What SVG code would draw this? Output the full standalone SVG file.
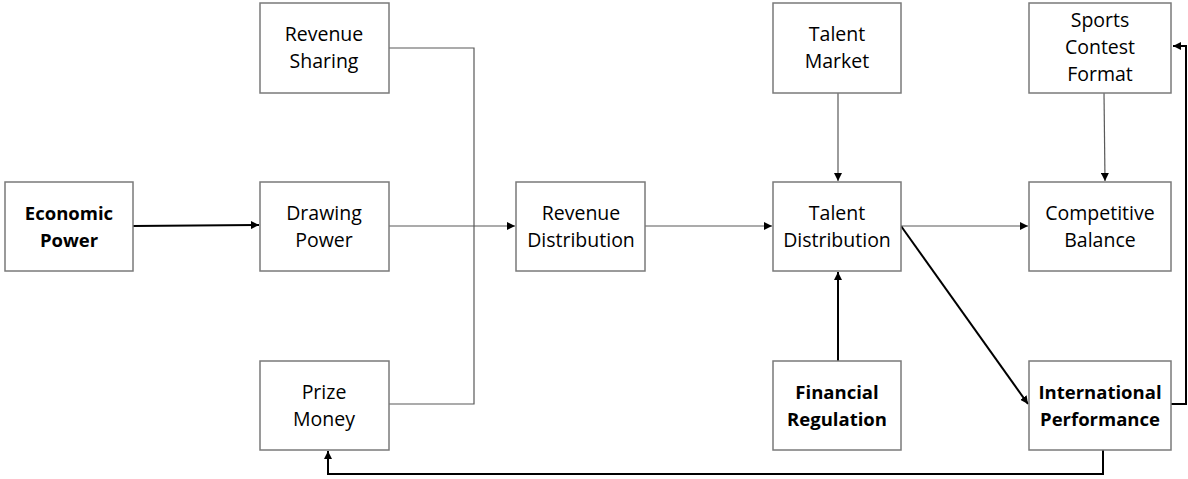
<svg xmlns="http://www.w3.org/2000/svg" width="1188" height="479" viewBox="0 0 1188 479">
<defs>
<marker id="ah" viewBox="0 0 10 10" refX="10" refY="5" markerWidth="8" markerHeight="8" markerUnits="userSpaceOnUse" orient="auto">
<path d="M0,0 L10,5 L0,10 Z" fill="#000"/>
</marker>
<style>
.box{fill:#fff;stroke:#7a7a7a;stroke-width:1.5}
.t{font-family:"Open Sans","Liberation Sans",sans-serif;font-size:19.5px;fill:#000;text-anchor:middle}
.b{font-weight:bold;font-size:18.5px}
.thin{fill:none;stroke:#595959;stroke-width:1.2}
.thick{fill:none;stroke:#000;stroke-width:2}
</style>
</defs>
<rect width="1188" height="479" fill="#fff"/>
<g id="connectors">
<path class="thick" d="M133,226 L259,225" marker-end="url(#ah)"/>
<path class="thin" d="M389,48 L474,48 L474,404 L389,404"/>
<path class="thin" d="M389,226 L515,226" marker-end="url(#ah)"/>
<path class="thin" d="M645,226 L772,226" marker-end="url(#ah)"/>
<path class="thin" d="M838,93 L838,181" marker-end="url(#ah)"/>
<path class="thick" d="M838,361 L838,272" marker-end="url(#ah)"/>
<path class="thin" d="M901,226 L1028,226" marker-end="url(#ah)"/>
<path class="thick" d="M901,226 L1028,404" marker-end="url(#ah)"/>
<path class="thin" d="M1104,93 L1105,181" marker-end="url(#ah)"/>
<path class="thick" d="M1171,404 L1186,404 L1186,46 L1173,46" marker-end="url(#ah)"/>
<path class="thick" d="M1103,450 L1103,474 L328,474 L328,451" marker-end="url(#ah)"/>
</g>
<g id="economic-power"><rect class="box" x="5" y="182" width="128" height="89"/><text class="t b" x="69" y="220">Economic</text><text class="t b" x="69" y="247">Power</text></g>
<g id="revenue-sharing"><rect class="box" x="260" y="3" width="129" height="90"/><text class="t" x="324" y="41">Revenue</text><text class="t" x="324" y="68">Sharing</text></g>
<g id="drawing-power"><rect class="box" x="260" y="182" width="129" height="89"/><text class="t" x="324" y="220">Drawing</text><text class="t" x="324" y="247">Power</text></g>
<g id="prize-money"><rect class="box" x="260" y="361" width="129" height="89"/><text class="t" x="324" y="399">Prize</text><text class="t" x="324" y="426">Money</text></g>
<g id="revenue-distribution"><rect class="box" x="516" y="182" width="129" height="89"/><text class="t" x="581" y="220">Revenue</text><text class="t" x="581" y="247">Distribution</text></g>
<g id="talent-market"><rect class="box" x="773" y="3" width="128" height="90"/><text class="t" x="837" y="41">Talent</text><text class="t" x="837" y="68">Market</text></g>
<g id="talent-distribution"><rect class="box" x="773" y="182" width="128" height="89"/><text class="t" x="837" y="220">Talent</text><text class="t" x="837" y="247">Distribution</text></g>
<g id="financial-regulation"><rect class="box" x="773" y="361" width="128" height="89"/><text class="t b" x="837" y="399">Financial</text><text class="t b" x="837" y="426">Regulation</text></g>
<g id="sports-contest-format"><rect class="box" x="1029" y="3" width="142" height="90"/><text class="t" x="1100" y="27">Sports</text><text class="t" x="1100" y="54">Contest</text><text class="t" x="1100" y="81">Format</text></g>
<g id="competitive-balance"><rect class="box" x="1029" y="182" width="142" height="89"/><text class="t" x="1100" y="220">Competitive</text><text class="t" x="1100" y="247">Balance</text></g>
<g id="international-performance"><rect class="box" x="1029" y="361" width="142" height="89"/><text class="t b" x="1100" y="399">International</text><text class="t b" x="1100" y="426">Performance</text></g>
</svg>
